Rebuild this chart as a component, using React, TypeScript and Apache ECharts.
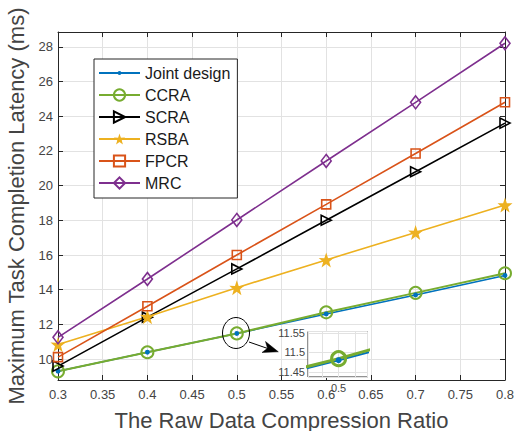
import React, { useEffect, useRef } from 'react';
import * as echarts from 'echarts';

const ratios = [0.3, 0.4, 0.5, 0.6, 0.7, 0.8];
const jointDesign = [9.3, 10.4, 11.48, 12.6, 13.7, 14.82];
const ccra = [9.3, 10.4, 11.484, 12.7, 13.82, 14.95];
const scra = [9.6, 12.42, 15.2, 18.0, 20.8, 23.6];
const rsba = [10.85, 12.45, 14.12, 15.72, 17.3, 18.88];
const fpcr = [10.12, 13.05, 16.0, 18.92, 21.85, 24.8];
const mrc = [11.26, 14.62, 18.02, 21.42, 24.8, 28.2];

const seriesNames = ['Joint design', 'CCRA', 'SCRA', 'RSBA', 'FPCR', 'MRC'];
const xAxisTitle = 'The Raw Data Compression Ratio';
const yAxisTitle = 'Maximum Task Completion Latency (ms)';

const FONT = "'Liberation Sans', Arial, Helvetica, sans-serif";
const AX = '#262626';
const TXT = '#444444';
const GRIDC = '#e2e2e2';
const STAR =
  'path://M50,0 L61.8,35.1 L97.6,34.5 L69.1,57.3 L79.4,91.5 L50,71 L20.6,91.5 L30.9,57.3 L2.4,34.5 L38.2,35.1 Z';
// small dot inside an invisible 10x10 box (zero-area corner points keep the box)
const DOT =
  'path://M0,0 L0.01,0 Z M10,10 L9.99,10 Z M3.25,5 A1.75,1.75 0 1,0 6.75,5 A1.75,1.75 0 1,0 3.25,5 Z';

const pairs = (vals: number[]) => ratios.map((x, i) => [x, vals[i]]);

function mk(
  name: string,
  vals: number[],
  color: string,
  symbol: string,
  size: any,
  filled: boolean,
  extra: any = {}
) {
  return {
    type: 'line',
    name,
    data: pairs(vals),
    xAxisIndex: 0,
    yAxisIndex: 0,
    symbol,
    symbolSize: size,
    showSymbol: true,
    lineStyle: { color, width: 1.6 },
    itemStyle: {
      color: filled ? color : 'rgba(0,0,0,0)',
      borderColor: color,
      borderWidth: filled ? 0 : 1.6,
    },
    emphasis: { disabled: true },
    z: 2,
    ...extra,
  };
}

export default function App() {
  const ref = useRef<HTMLDivElement>(null);
  useEffect(() => {
    const chart = echarts.init(ref.current!, null, { renderer: 'svg' });
    const c = {
      joint: '#0072BD',
      ccra: '#77AC30',
      scra: '#000000',
      rsba: '#EDB120',
      fpcr: '#D95319',
      mrc: '#7E2F8E',
    };
    const mainSeries = [
      mk(seriesNames[0], jointDesign, c.joint, DOT, 14, true),
      mk(seriesNames[1], ccra, c.ccra, 'circle', 12, false, {
        lineStyle: { color: c.ccra, width: 2 },
        itemStyle: { color: 'rgba(0,0,0,0)', borderColor: c.ccra, borderWidth: 2 },
      }),
      mk(seriesNames[2], scra, c.scra, 'triangle', 10, false, { symbolRotate: -90 }),
      mk(seriesNames[3], rsba, c.rsba, STAR, 15, true),
      mk(seriesNames[4], fpcr, c.fpcr, 'rect', 9, false),
      mk(seriesNames[5], mrc, c.mrc, 'diamond', [10, 13], false),
    ];
    const insetSeries = [
      {
        ...mk(seriesNames[0], jointDesign, c.joint, 'circle', 6, true),
        xAxisIndex: 2,
        yAxisIndex: 2,
        z: 6,
        lineStyle: { color: c.joint, width: 2 },
      },
      {
        ...mk(seriesNames[1], ccra, c.ccra, 'circle', 14, false),
        xAxisIndex: 2,
        yAxisIndex: 2,
        z: 6,
        lineStyle: { color: c.ccra, width: 3 },
        itemStyle: { color: 'rgba(0,0,0,0)', borderColor: c.ccra, borderWidth: 3 },
      },
    ];

    const commonLabel = { color: TXT, fontFamily: FONT, fontSize: 13 };
    const option: any = {
      animation: false,
      backgroundColor: '#ffffff',
      textStyle: { fontFamily: FONT },
      grid: [
        { left: 58, right: 9, top: 32, bottom: 51, outerBoundsMode: 'none', containLabel: false },
        {
          left: 308,
          top: 331.5,
          width: 59.5,
          height: 45.5,
          show: true,
          backgroundColor: '#ffffff',
          borderColor: AX,
          borderWidth: 1,
          z: 3,
          outerBoundsMode: 'none',
          containLabel: false,
        },
      ],
      xAxis: [
        {
          type: 'value',
          gridIndex: 0,
          min: 0.3,
          max: 0.8,
          interval: 0.05,
          position: 'bottom',
          name: xAxisTitle,
          nameLocation: 'middle',
          nameGap: 29,
          nameTextStyle: { color: TXT, fontSize: 22, fontFamily: FONT },
          axisLine: { show: true, onZero: false, lineStyle: { color: AX, width: 1 } },
          axisTick: { show: true, inside: true, length: 5, lineStyle: { color: AX } },
          axisLabel: { ...commonLabel, margin: 8 },
          splitLine: { show: true, lineStyle: { color: GRIDC, width: 1 } },
        },
        {
          type: 'value',
          gridIndex: 0,
          min: 0.3,
          max: 0.8,
          interval: 0.05,
          position: 'top',
          axisLine: { show: true, onZero: false, lineStyle: { color: AX, width: 1 } },
          axisTick: { show: true, inside: true, length: 5, lineStyle: { color: AX } },
          axisLabel: { show: false },
          splitLine: { show: false },
        },
        {
          type: 'value',
          gridIndex: 1,
          min: 0.49815,
          max: 0.50175,
          splitNumber: 3,
          z: 4,
          axisLine: { show: false },
          axisTick: { show: false },
          axisLabel: {
            color: TXT,
            fontFamily: FONT,
            fontSize: 11,
            margin: 5,
            showMinLabel: false,
            showMaxLabel: false,
            formatter: (v: number) => (Math.abs(v - 0.5) < 1e-7 ? '0.5' : ''),
          },
          splitLine: { show: true, lineStyle: { color: GRIDC, width: 1 } },
        },
      ],
      yAxis: [
        {
          type: 'value',
          gridIndex: 0,
          min: 8.8,
          max: 28.85,
          splitNumber: 10,
          position: 'left',
          name: yAxisTitle,
          nameLocation: 'middle',
          nameGap: 27,
          nameTextStyle: { color: TXT, fontSize: 22, fontFamily: FONT },
          axisLine: { show: true, onZero: false, lineStyle: { color: AX, width: 1 } },
          axisTick: { show: true, inside: true, length: 5, lineStyle: { color: AX } },
          axisLabel: {
            ...commonLabel,
            margin: 5,
            showMinLabel: false,
            showMaxLabel: false,
            formatter: (v: number) =>
              Math.abs(v / 2 - Math.round(v / 2)) < 1e-6 ? String(Math.round(v)) : '',
          },
          splitLine: { show: true, lineStyle: { color: GRIDC, width: 1 } },
        },
        {
          type: 'value',
          gridIndex: 0,
          min: 8.8,
          max: 28.85,
          splitNumber: 10,
          position: 'right',
          axisLine: { show: true, onZero: false, lineStyle: { color: AX, width: 1 } },
          axisTick: { show: true, inside: true, length: 5, lineStyle: { color: AX } },
          axisLabel: { show: false },
          splitLine: { show: false },
        },
        {
          type: 'value',
          gridIndex: 1,
          min: 11.4364,
          max: 11.5544,
          splitNumber: 2,
          z: 4,
          axisLine: { show: false },
          axisTick: { show: false },
          axisLabel: {
            color: TXT,
            fontFamily: FONT,
            fontSize: 11,
            margin: 3,
            showMinLabel: false,
            showMaxLabel: false,
            formatter: (v: number) =>
              Math.abs(v * 20 - Math.round(v * 20)) < 1e-6 ? String(+v.toFixed(2)) : '',
          },
          splitLine: { show: true, lineStyle: { color: GRIDC, width: 1 } },
        },
      ],
      legend: {
        show: true,
        data: seriesNames,
        orient: 'vertical',
        left: 94,
        top: 59,
        align: 'left',
        itemWidth: 41,
        itemHeight: 14,
        itemGap: 6,
        padding: [6, 7, 7, 4],
        backgroundColor: '#ffffff',
        borderColor: AX,
        borderWidth: 1,
        borderRadius: 0,
        selectedMode: false,
        textStyle: { color: '#1a1a1a', fontSize: 16, fontFamily: FONT, lineHeight: 16 },
        z: 10,
      },
      graphic: [
        {
          type: 'ellipse',
          shape: { cx: 236, cy: 333, rx: 13.5, ry: 15.5 },
          style: { fill: 'none', stroke: '#000', lineWidth: 1 },
          z: 20,
        },
        {
          type: 'line',
          shape: { x1: 249, y1: 342, x2: 268, y2: 348.6 },
          style: { stroke: '#000', lineWidth: 1 },
          z: 20,
        },
        {
          type: 'polygon',
          shape: {
            points: [
              [278.3, 351.8],
              [262, 352.5],
              [267.5, 348.3],
              [265.5, 341.5],
            ],
          },
          style: { fill: '#000', stroke: '#000', lineWidth: 0.5 },
          z: 20,
        },
      ],
      series: [...mainSeries, ...insetSeries],
    };
    chart.setOption(option);
    return () => chart.dispose();
  }, []);
  return (
    <div
      ref={ref}
      style={{ position: 'fixed', left: 0, top: 0, width: 514, height: 431 }}
    />
  );
}
